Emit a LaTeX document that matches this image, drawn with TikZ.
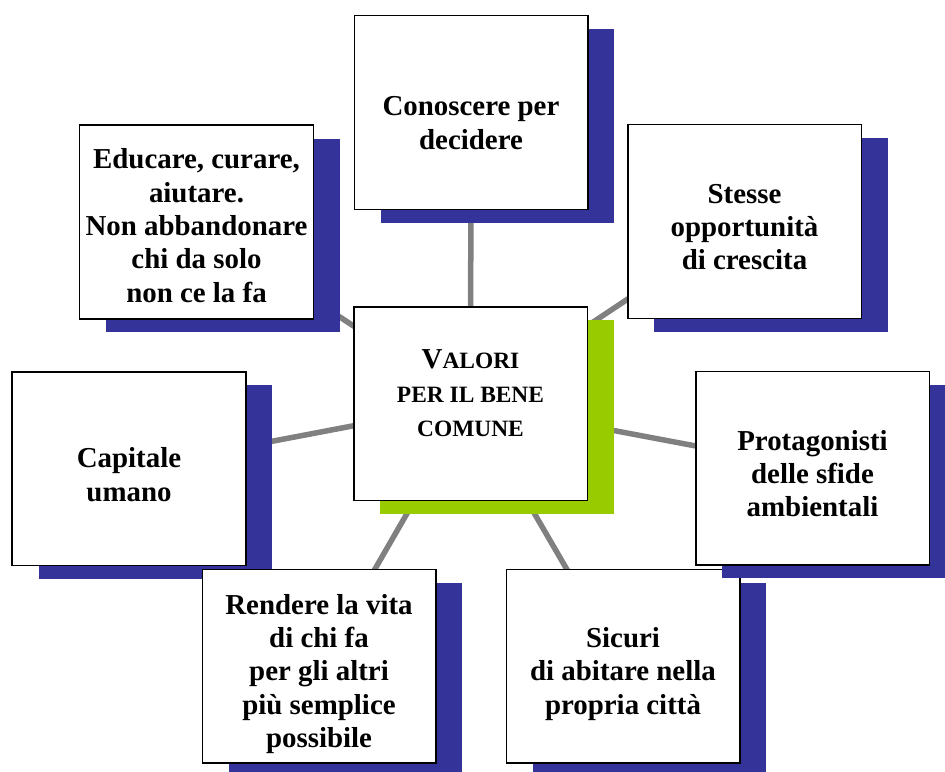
\documentclass[tikz,border=0pt]{standalone}
\usepackage{fontspec}
\setmainfont{Liberation Serif}
\usetikzlibrary{shadows}
\pgfdeclarelayer{background}
\pgfsetlayers{background,main}
\definecolor{shblue}{RGB}{51,51,153}
\definecolor{shgreen}{RGB}{153,204,0}
\definecolor{conngray}{RGB}{128,128,128}
\begin{document}
\begin{tikzpicture}[x=1bp,y=-1bp,
  box/.style={rectangle, draw=black, line width=1.5bp, fill=white,
    minimum width=233.5bp, minimum height=193.5bp, inner sep=0pt},
  blueshadow/.style={general shadow={fill=shblue, shadow xshift=26.5bp, shadow yshift=-13.5bp}},
  greenshadow/.style={general shadow={fill=shgreen, shadow xshift=26.5bp, shadow yshift=-13.5bp}},
  txt/.style={align=center, inner sep=0pt, font=\fontsize{29}{33.5}\selectfont\bfseries},
  ctxt/.style={align=center, inner sep=0pt, font=\fontsize{23.5}{34}\selectfont\bfseries},
  conn/.style={draw=conngray, line width=5.5bp}]
\useasboundingbox (0,0) rectangle (945,772);
% boxes (drawing order matters for overlaps)
\node[box, blueshadow] (b1) at (471,112.5) {};
\node[txt] (t1) at ([yshift=-10.5bp]b1.center) {Conoscere per\\decidere};
\node[box, blueshadow] (b2) at (196.5,222) {};
\node[txt] (t2) at ([yshift=-3.5bp]b2.center) {Educare, curare,\\aiutare.\\Non abbandonare\\chi da solo\\non ce la fa};
\node[box, blueshadow] (b3) at (744.5,221.5) {};
\node[txt] (t3) at ([yshift=-5.5bp]b3.center) {Stesse\\opportunità\\di crescita};
\node[box, blueshadow] (b4) at (129,468.5) {};
\node[txt] (t4) at ([yshift=-6bp]b4.center) {Capitale\\umano};
\node[box, blueshadow] (b6) at (319,666) {};
\node[txt] (t6) at ([yshift=-8bp]b6.center) {Rendere la vita\\di chi fa\\per gli altri\\più semplice\\possibile};
\node[box, blueshadow] (b7) at (623,666) {};
\node[txt] (t7) at ([yshift=-8bp]b7.center) {Sicuri\\di abitare nella\\propria città};
\node[box, blueshadow] (b5) at (812.5,468) {};
\node[txt] (t5) at ([yshift=-5.5bp]b5.center) {Protagonisti\\delle sfide\\ambientali};
\node[box, greenshadow] (c) at (470.5,403.5) {};
\node[ctxt] (tc) at ([yshift=10.5bp]c.center) {{\fontsize{29}{34}\selectfont V}ALORI\\PER IL BENE\\COMUNE};
% connectors behind
\begin{pgfonlayer}{background}
\foreach \b in {b1,b2,b3,b4,b5,b6,b7}{
  \draw[conn] (c.center) -- (\b.center);
}
\end{pgfonlayer}
\end{tikzpicture}
\end{document}
